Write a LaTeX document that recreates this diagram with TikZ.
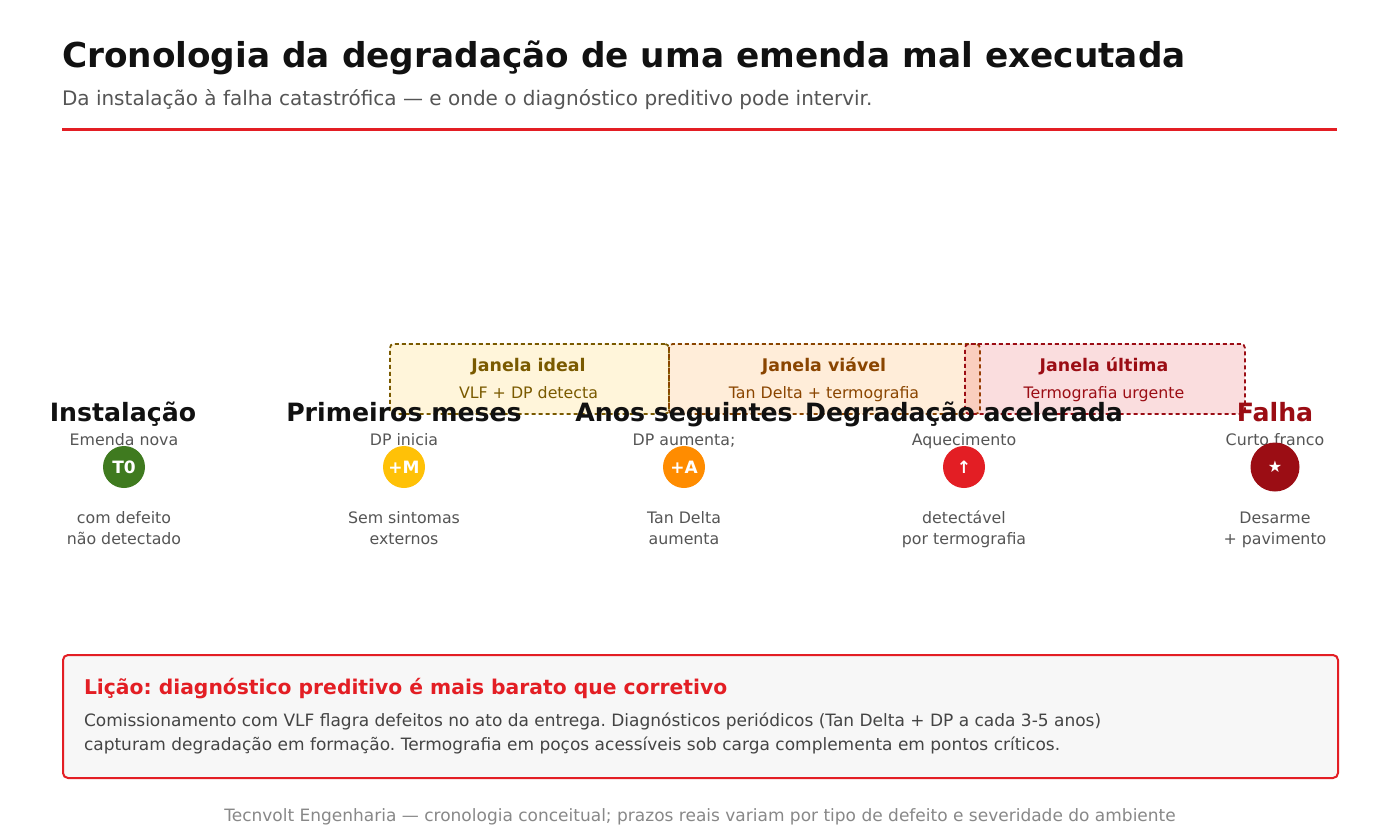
\documentclass[tikz,border=0pt]{standalone}
\usepackage{fontspec}
\setmainfont{DejaVu Sans}
\frenchspacing
\usetikzlibrary{backgrounds}
\definecolor{cred}{HTML}{E31E24}
\definecolor{cdark}{HTML}{9B0D14}
\definecolor{cgreen}{HTML}{3F7A1F}
\definecolor{cyel}{HTML}{FFC107}
\definecolor{corg}{HTML}{FF8C00}
\definecolor{cgray}{HTML}{555555}
\definecolor{cideal}{HTML}{7A5A00}
\definecolor{cviav}{HTML}{8A4500}
\definecolor{clight}{HTML}{888888}
\definecolor{cbody}{HTML}{444444}
\definecolor{ctitle}{HTML}{111111}
\definecolor{cpanel}{HTML}{F7F7F7}
\tikzset{
  txt/.style={inner sep=0pt, outer sep=0pt},
  stagetitle/.style={txt, anchor=base, text=ctitle, font=\fontsize{25.2}{30}\selectfont\bfseries},
  uplabel/.style={txt, anchor=base, text=cgray, font=\fontsize{15.8}{18}\selectfont},
  lowlabel/.style={txt, anchor=base, text=cgray, align=center, font=\fontsize{15.8}{21}\selectfont},
  dot/.style={circle, inner sep=0pt, minimum size=42pt, text=white, font=\fontsize{17}{20}\selectfont\bfseries},
  winbox/.style={rectangle, rounded corners=4pt, line width=1.8pt, dash pattern=on 4pt off 3pt, fill opacity=0.15, draw opacity=1, minimum height=70pt, anchor=north west, inner sep=0pt},
  wintitle/.style={txt, anchor=base, font=\fontsize{17.4}{20}\selectfont\bfseries},
  winsub/.style={txt, anchor=base, font=\fontsize{15.8}{18}\selectfont},
}
\begin{document}
\begin{tikzpicture}[x=1pt,y=-1pt]
\path[use as bounding box, fill=white] (0,0) rectangle (1400,840);

% header
\node[txt, anchor=base west, text=ctitle, font=\fontsize{34.3}{40}\selectfont\bfseries] (title) at (62,68) {Cronologia da degradação de uma emenda mal executada};
\node[txt, anchor=base west, text=cgray, font=\fontsize{20}{24}\selectfont] (subtitle) at (62,106) {Da instalação à falha catastrófica — e onde o diagnóstico preditivo pode intervir.};
\coordinate (ruleL) at (62,130);
\coordinate (ruleR) at (1337,130);
\draw[cred, line width=3pt] (ruleL) -- (ruleR);

% windows
\node[winbox, draw=cideal, fill=cyel, minimum width=279pt] (wideal) at (389,343) {};
\node[winbox, draw=cviav, fill=corg, minimum width=311pt] (wviav) at (668,343) {};
\node[winbox, draw=cdark, fill=cred, minimum width=280pt] (wult) at (964,343) {};
\node[wintitle, text=cideal] (wideal-t) at (528.5,371) {Janela ideal};
\node[winsub, text=cideal] (wideal-s) at (528.5,398) {VLF + DP detecta};
\node[wintitle, text=cviav] (wviav-t) at (824,371) {Janela viável};
\node[winsub, text=cviav] (wviav-s) at (824,398) {Tan Delta + termografia};
\node[wintitle, text=cdark] (wult-t) at (1104,371) {Janela última};
\node[winsub, text=cdark] (wult-s) at (1104,398) {Termografia urgente};

% stage titles
\node[stagetitle] (s1) at (123,421) {Instalação};
\node[stagetitle] (s2) at (404,421) {Primeiros meses};
\node[stagetitle] (s3) at (684,421) {Anos seguintes};
\node[stagetitle] (s4) at (964,421) {Degradação acelerada};
\node[stagetitle, text=cdark] (s5) at (1275,421) {Falha};

% upper labels
\node[uplabel] (u1) at (124,445) {Emenda nova};
\node[uplabel] (u2) at (404,445) {DP inicia};
\node[uplabel] (u3) at (684,445) {DP aumenta;};
\node[uplabel] (u4) at (964,445) {Aquecimento};
\node[uplabel] (u5) at (1275,445) {Curto franco};

% dots
\node[dot, fill=cgreen] (d1) at (124,467) {T0};
\node[dot, fill=cyel] (d2) at (404,467) {+M};
\node[dot, fill=corg] (d3) at (684,467) {+A};
\node[dot, fill=cred] (d4) at (964,467) {↑};
\node[dot, fill=cdark, minimum size=49pt] (d5) at (1275,467) {\fontsize{16}{18}\selectfont ★};
\begin{scope}[on background layer]
\draw[ctitle, line width=4pt] (d1.center) -- (d2.center) -- (d3.center) -- (d4.center) -- (d5.center);
\end{scope}

% lower labels
\node[lowlabel] (l1) at (124,544) {com defeito\\não detectado};
\node[lowlabel] (l2) at (404,544) {Sem sintomas\\externos};
\node[lowlabel] (l3) at (684,544) {Tan Delta\\aumenta};
\node[lowlabel] (l4) at (964,544) {detectável\\por termografia};
\node[lowlabel] (l5) at (1275,544) {Desarme\\+ pavimento};

% lesson panel
\node[rectangle, rounded corners=5pt, draw=cred, fill=cpanel, line width=2pt, minimum width=1275pt, minimum height=123pt, anchor=north west, inner sep=0pt] (panel) at (62,654) {};
\node[txt, anchor=base west, text=cred, font=\fontsize{20.3}{24}\selectfont\bfseries] (ptitle) at (84,694) {Lição: diagnóstico preditivo é mais barato que corretivo};
\node[txt, anchor=base west, text=cbody, font=\fontsize{17}{20}\selectfont] (pline1) at (84,726) {Comissionamento com VLF flagra defeitos no ato da entrega. Diagnósticos periódicos (Tan Delta + DP a cada 3-5 anos)};
\node[txt, anchor=base west, text=cbody, font=\fontsize{17}{20}\selectfont] (pline2) at (84,750) {capturam degradação em formação. Termografia em poços acessíveis sob carga complementa em pontos críticos.};

% footer
\node[txt, anchor=base, text=clight, font=\fontsize{17}{20}\selectfont] (footer) at (700,821) {Tecnvolt Engenharia — cronologia conceitual; prazos reais variam por tipo de defeito e severidade do ambiente};
\end{tikzpicture}
\end{document}
